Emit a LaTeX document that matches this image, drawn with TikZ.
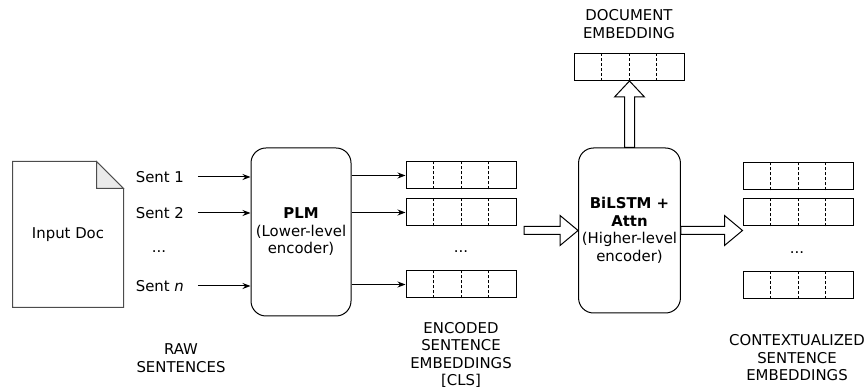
\documentclass[tikz,border=0pt]{standalone}
\usepackage{fontspec}
\setmainfont{DejaVu Sans}
\usetikzlibrary{arrows.meta,positioning,calc}

\tikzset{
  emb/.style={draw, minimum width=110pt, minimum height=27pt, inner sep=0pt},
  encoder/.style={draw, rounded corners=15pt, minimum width=100pt, align=center},
  lbl/.style={align=center, inner sep=0pt},
  fat/.style={draw, fill=white},
  cell/.style={line width=0.7pt, dash pattern=on 3pt off 2pt}
}

% three dashed dividers inside an embedding box
\newcommand{\cells}[1]{%
  \foreach \k in {1,2,3}
    \draw[cell] ($(#1.south west)!\k/4!(#1.south east)$) -- ($(#1.north west)!\k/4!(#1.north east)$);}

% hollow arrows: horizontal and upwards
\newcommand{\hfat}[2]{%
  \draw[fat] let \p1=(#1), \p2=(#2) in
    (\x1,\y1+4pt) -- (\x2-18pt,\y1+4pt) -- (\x2-18pt,\y1+15pt) -- (\x2,\y1)
    -- (\x2-18pt,\y1-15pt) -- (\x2-18pt,\y1-4pt) -- (\x1,\y1-4pt) -- cycle;}
\newcommand{\vfat}[2]{%
  \draw[fat] let \p1=(#1), \p2=(#2) in
    (\x1-5pt,\y1) -- (\x1-5pt,\y2-16pt) -- (\x1-15pt,\y2-16pt) -- (\x1,\y2)
    -- (\x1+15pt,\y2-16pt) -- (\x1+5pt,\y2-16pt) -- (\x1+5pt,\y1) -- cycle;}

\begin{document}
\begin{tikzpicture}[x=1pt,y=1pt,>={Stealth[length=8pt,width=6pt]},line width=1pt,
                    font=\fontsize{14.9}{17.5}\selectfont]
  \useasboundingbox (0,0) rectangle (867,390);

  % input document
  \node [minimum width=110pt, minimum height=145pt, inner sep=0pt] (doc) at (68,155.5) {Input Doc};
  \draw [black!70] (doc.south west) -- (doc.south east) -- ([yshift=-27pt]doc.north east)
        -- ([xshift=-27pt]doc.north east) -- (doc.north west) -- cycle;
  \draw [black!70, fill=black!8] ([xshift=-27pt]doc.north east) -- ([xshift=-27pt,yshift=-27pt]doc.north east)
        -- ([yshift=-27pt]doc.north east) -- cycle;

  % raw sentences
  \node [anchor=west] (s1) at (132,213) {Sent 1};
  \node [anchor=west] (s2) at (132,177) {Sent 2};
  \node               (sdots) at (159,138) {...};
  \node [anchor=west] (sn) at (132,104) {Sent \textit{n}};

  % lower-level encoder
  \node [encoder, minimum height=168pt] (plm) at (301,158) {\textbf{PLM}\\(Lower-level\\encoder)};
  \draw [->] (s1.east) ++(10,0) -- (plm.west |- s1.east);
  \draw [->] (s2.east) ++(10,0) -- (plm.west |- s2.east);
  \draw [->] (sn.east) ++(10,0) -- (plm.west |- sn.east);

  % encoded sentence embeddings
  \node [emb] (e1) at (461,214.5) {};
  \node [emb] (e2) at (461,177.5) {};
  \node       (edots) at (461,138) {...};
  \node [emb] (en) at (461,105.5) {};
  \foreach \b in {e1,e2,en} {\cells{\b}}
  \draw [->] (plm.east |- e1) -- (e1);
  \draw [->] (plm.east |- e2) -- (e2);
  \draw [->] (plm.east |- en) -- (en);

  % higher-level encoder
  \node [encoder, minimum width=101pt, minimum height=165pt] (att) at (629.5,159.5)
        {\textbf{BiLSTM +}\\\textbf{Attn}\\(Higher-level\\encoder)};
  \coordinate (inarr) at ([xshift=-54pt]att.west);
  \hfat{inarr}{att.west}

  % document embedding
  \node [emb] (demb) at (629,323) {};
  \cells{demb}
  \node [lbl] (dlbl) at (629,366) {DOCUMENT\\EMBEDDING};
  \vfat{att.north}{demb.south}

  % contextualized sentence embeddings
  \node [emb] (c1) at (798,213.5) {};
  \node [emb] (c2) at (798,177.5) {};
  \node       (cdots) at (797,137) {...};
  \node [emb] (cn) at (798,105) {};
  \foreach \b in {c1,c2,cn} {\cells{\b}}
  \hfat{att.east}{att.east -| c1.west}

  % captions
  \node [lbl] (raw) at (181,32) {RAW\\SENTENCES};
  \node [lbl] (enclbl) at (461,35) {ENCODED\\SENTENCE\\EMBEDDINGS\\{[CLS]}};
  \node [lbl] (ctxlbl) at (797,32) {CONTEXTUALIZED\\SENTENCE\\EMBEDDINGS};
\end{tikzpicture}
\end{document}
